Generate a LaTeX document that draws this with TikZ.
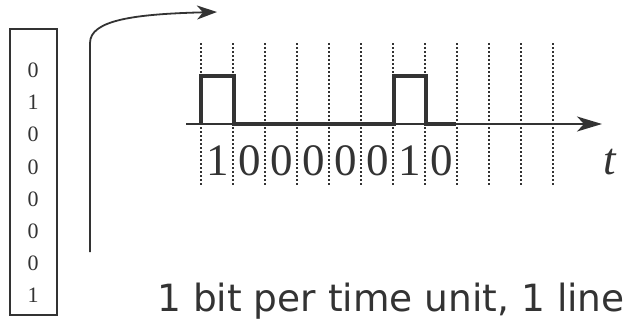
\documentclass[tikz,border=0pt]{standalone}
\usepackage{fontspec}
\setmainfont{Liberation Serif}
\newfontfamily\capfont{DejaVu Sans}
\usetikzlibrary{arrows.meta}
\definecolor{ink}{HTML}{333333}

\begin{document}
\begin{tikzpicture}[x=1pt,y=-1pt, every node/.style={text=ink, inner sep=0pt},
    grid/.style={ink, line width=2pt, dash pattern=on 2pt off 2pt},
    wave/.style={ink, line width=4.5pt, line join=miter}]
  \useasboundingbox (0,0) rectangle (629,324);
  % stored byte
  \node[draw=ink, line width=1.4pt, minimum width=47pt, minimum height=286pt] (reg) at (33.5,172) {};
  \foreach \b [count=\i from 0] in {0,1,0,0,0,0,0,1}
    \node[font=\fontsize{22}{22}\selectfont] (r\i) at (33,70.5+32.1*\i) {\b};
  % arrow to the line
  \coordinate (src) at (90,252);
  \coordinate (dst) at (217,12);
  \draw[ink, line width=1.8pt, -{Stealth[length=20pt, width=14pt, inset=6pt]}]
    (src) -- (90,43) .. controls (90,20) and (135,14) .. (dst);
  % time slots
  \foreach \i in {0,...,11}
    \draw[grid] (201+32*\i,43) -- (201+32*\i,186);
  \coordinate (t0) at (186,124);
  \coordinate (t1) at (602,124);
  \draw[ink, line width=1.6pt, -{Stealth[length=25pt, width=15pt, inset=7pt]}] (t0) -- (t1);
  \draw[wave] (201,124) -- (201,76) -- (234,76) -- (234,124) -- (394,124)
    -- (394,76) -- (426,76) -- (426,124) -- (456,124);
  \foreach \b [count=\i from 0] in {1,0,0,0,0,0,1,0}
    \node[font=\fontsize{45}{45}\selectfont] (s\i) at (218+32*\i,161) {\b};
  \node[font=\fontsize{45}{45}\selectfont\itshape] (tl) at (610,162) {t};
  \node[font=\capfont\fontsize{37.5}{37.5}\selectfont, anchor=base] (cap) at (391,311) {1 bit per time unit, 1 line};
\end{tikzpicture}
\end{document}
